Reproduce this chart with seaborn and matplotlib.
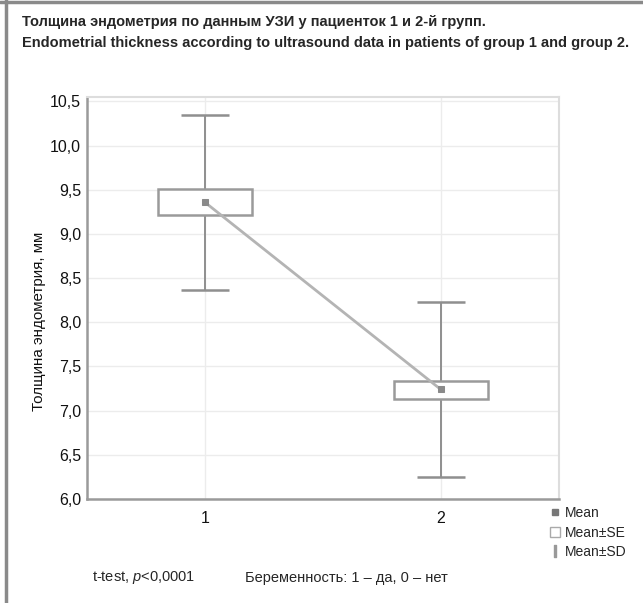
import numpy as np
import pandas as pd
import matplotlib
matplotlib.use("Agg")
import matplotlib.pyplot as plt
import seaborn as sns
from matplotlib.lines import Line2D
from matplotlib.patches import Rectangle
from matplotlib.ticker import FuncFormatter

# values
groups = [1, 2]
means = [9.36, 7.24]
se_low = [9.22, 7.13]
se_high = [9.51, 7.34]
sd_low = [8.37, 6.25]
sd_high = [10.35, 8.23]
y_ticks = [6.0, 6.5, 7.0, 7.5, 8.0, 8.5, 9.0, 9.5, 10.0, 10.5]

df = pd.DataFrame({"group": groups, "mean": means})

sns.set_style("white")
plt.rcParams["font.family"] = ["Liberation Sans", "DejaVu Sans"]
plt.rcParams["mathtext.fontset"] = "custom"
plt.rcParams["mathtext.it"] = "Liberation Sans:italic"
plt.rcParams["mathtext.rm"] = "Liberation Sans"

fig = plt.figure(figsize=(6.43, 6.03), dpi=100)
ax = fig.add_axes([0.135, 0.1725, 0.734, 0.6665])

gray = "#8f8f8f"

# Mean +- SD whiskers
ax.errorbar(groups, means,
            yerr=[np.array(means) - np.array(sd_low), np.array(sd_high) - np.array(means)],
            fmt="none", ecolor=gray, elinewidth=1.4, capsize=17, capthick=1.8, zorder=2)

# Mean +- SE boxes
ax.bar(groups, np.array(se_high) - np.array(se_low), bottom=se_low, width=0.4,
       color="white", edgecolor="#9a9a9a", linewidth=1.8, zorder=3)

# mean line
sns.lineplot(data=df, x="group", y="mean", ax=ax, color="#b4b4b4", linewidth=2,
             marker="s", markersize=4, markerfacecolor="#8a8a8a", markeredgecolor="#8a8a8a",
             zorder=4)

ax.set_xlim(0.5, 2.5)
ax.set_ylim(6.0, 10.55)
ax.set_xticks(groups)
ax.set_yticks(y_ticks)
ax.yaxis.set_major_formatter(FuncFormatter(lambda v, p: f"{v:.1f}".replace(".", ",")))
ax.tick_params(axis="both", length=0, labelsize=11.5, colors="#111111", pad=4)
ax.tick_params(axis="x", pad=9)
ax.set_xlabel("")
ax.set_ylabel("Толщина эндометрия, мм", fontsize=10.9, color="#111111")
ax.yaxis.set_label_coords(-0.086, 0.443)

ax.grid(True, color="#ececec", linewidth=1)
ax.set_axisbelow(True)
for s in ["left", "bottom"]:
    ax.spines[s].set_color("#9a9a9a")
    ax.spines[s].set_linewidth(1.8)
for s in ["top", "right"]:
    ax.spines[s].set_color("#dddddd")
    ax.spines[s].set_linewidth(1.5)

# titles
fig.text(22 / 643, 1 - 22 / 603, "Толщина эндометрия по данным УЗИ у пациенток 1 и 2-й групп.",
         fontsize=10.5, fontweight="bold", va="center", ha="left")
fig.text(22 / 643, 1 - 43 / 603,
         "Endometrial thickness according to ultrasound data in patients of group 1 and group 2.",
         fontsize=10.5, fontweight="bold", va="center", ha="left")

# bottom notes
fig.text(92 / 643, 1 - 578 / 603, "t-test, $p$<0,0001", fontsize=10.5, va="center", ha="left")
fig.text(245 / 643, 1 - 578 / 603, "Беременность: 1 – да, 0 – нет", fontsize=10.5, va="center", ha="left")

# legend
handles = [
    Line2D([], [], linestyle="none", marker="s", markersize=4, color="#777777"),
    Rectangle((0, 0), 1, 1, facecolor="white", edgecolor="#aaaaaa", linewidth=1),
    Line2D([], [], linestyle="none", marker=r"$\mathrm{I}$", markersize=8, color="#999999"),
]
fig.legend(handles, ["Mean", "Mean±SE", "Mean±SD"], loc="upper left",
           bbox_to_anchor=(550 / 643, 1 - 506 / 603), frameon=False, fontsize=10,
           handlelength=0.7, handleheight=0.7, handletextpad=0.35, labelspacing=0.4,
           borderpad=0, borderaxespad=0)

# outer frame lines (top and left)
fig.add_artist(Line2D([0, 1], [1 - 2 / 603, 1 - 2 / 603], transform=fig.transFigure,
                      color="#8a8a8a", linewidth=2.5))
fig.add_artist(Line2D([6 / 643, 6 / 643], [0, 1], transform=fig.transFigure,
                      color="#8a8a8a", linewidth=2.5))

fig.savefig("out.png", dpi=100)
